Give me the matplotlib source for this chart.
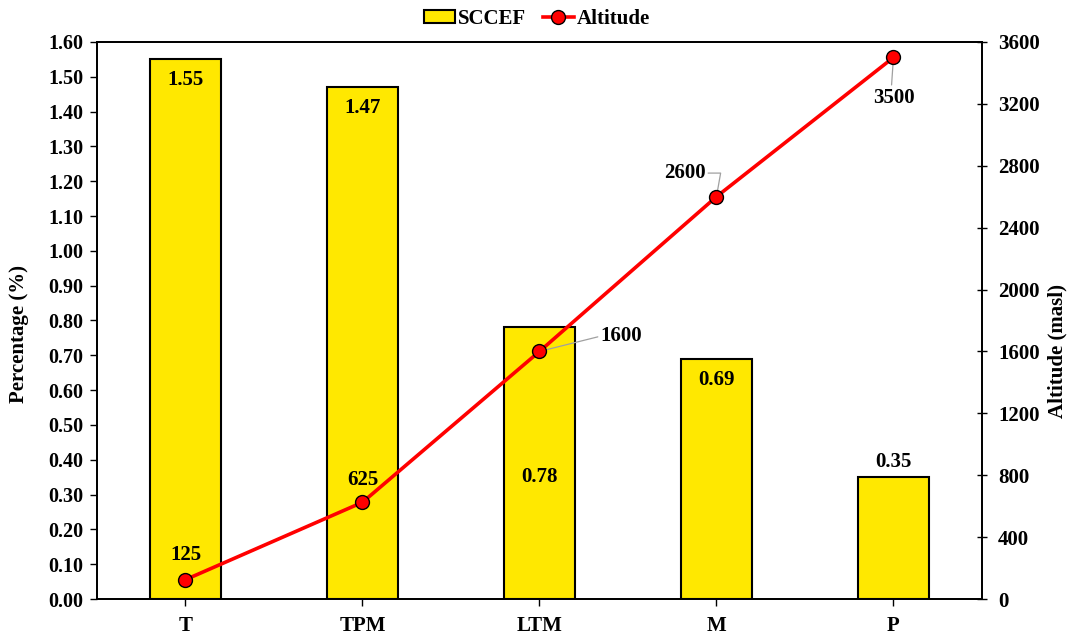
import matplotlib
matplotlib.use("Agg")
import matplotlib.pyplot as plt
from matplotlib.lines import Line2D
from matplotlib.patches import Patch

plt.rcParams['font.family'] = ['Liberation Serif', 'DejaVu Serif']
plt.rcParams['font.weight'] = 'bold'

# Data
zones = ["T", "TPM", "LTM", "M", "P"]
sccef = [1.55, 1.47, 0.78, 0.69, 0.35]
altitude = [125, 625, 1600, 2600, 3500]
pct_ticks = [0.0, 0.1, 0.2, 0.3, 0.4, 0.5, 0.6, 0.7, 0.8, 0.9, 1.0,
             1.1, 1.2, 1.3, 1.4, 1.5, 1.6]
alt_ticks = [0, 400, 800, 1200, 1600, 2000, 2400, 2800, 3200, 3600]

# label offsets (points) for the bar values
bar_offsets = [(0, -15), (0, -15), (0, -108), (0, -15), (0, 11)]

FS = 15

fig = plt.figure(figsize=(10.74, 6.34), dpi=100)
ax = fig.add_subplot(111)
fig.subplots_adjust(left=0.0903, right=0.9143, top=0.9338, bottom=0.0552)

x = list(range(len(zones)))
ax.bar(x, sccef, width=0.4, color='#FFE800', edgecolor='black',
       linewidth=1.5, zorder=2)
ax.set_xlim(-0.5, 4.5)
ax.set_ylim(0, 1.6)
ax.set_yticks(pct_ticks)
ax.set_yticklabels([f"{t:.2f}" for t in pct_ticks])
ax.set_xticks(x)
ax.set_xticklabels(zones)
ax.set_ylabel("Percentage (%)", fontsize=FS, fontweight='bold')
ax.yaxis.set_label_coords(-0.077, 0.475)
ax.tick_params(axis='y', direction='out', length=5, width=1, labelsize=14.5, pad=5)
ax.tick_params(axis='x', direction='out', length=5, width=1, labelsize=FS, pad=7)
for s in ax.spines.values():
    s.set_linewidth(1.3)

for xi, v, off in zip(x, sccef, bar_offsets):
    ax.annotate(f"{v:.2f}", xy=(xi, v), xytext=off, textcoords='offset points',
                ha='center', va='center', fontsize=FS, fontweight='bold', zorder=5)

ax2 = ax.twinx()
ax2.plot(x, altitude, color='#FF0000', linewidth=2.6, marker='o',
         markersize=10, markerfacecolor='#FF0000', markeredgecolor='black',
         markeredgewidth=1.0, zorder=4)
ax2.set_ylim(0, 3600)
ax2.set_yticks(alt_ticks)
ax2.set_ylabel("Altitude (masl)", fontsize=FS, fontweight='bold')
ax2.yaxis.set_label_coords(1.074, 0.445)
ax2.tick_params(axis='y', direction='inout', length=7, width=1, labelsize=FS, pad=8)
for s in ax2.spines.values():
    s.set_linewidth(1.3)

lead = dict(arrowstyle='-', color='#A0A0A0', lw=0.9, shrinkA=0, shrinkB=0)
ax2.annotate("125", xy=(0, 125), xytext=(0, 18), textcoords='offset points',
             ha='center', va='center', fontsize=FS, fontweight='bold')
ax2.annotate("625", xy=(1, 625), xytext=(0, 16), textcoords='offset points',
             ha='center', va='center', fontsize=FS, fontweight='bold')
ax2.annotate("1600", xy=(2, 1600), xytext=(44, 11), textcoords='offset points',
             ha='left', va='center', fontsize=FS, fontweight='bold',
             arrowprops=dict(lead, relpos=(0, 0.5)))
ax2.annotate("2600", xy=(3, 2600), xytext=(-8, 17), textcoords='offset points',
             ha='right', va='center', fontsize=FS, fontweight='bold',
             arrowprops=dict(lead, relpos=(1, 0.5),
                             connectionstyle="angle,angleA=0,angleB=80,rad=0"))
ax2.annotate("3500", xy=(4, 3500), xytext=(0, -29), textcoords='offset points',
             ha='center', va='center', fontsize=FS, fontweight='bold',
             arrowprops=dict(lead, relpos=(0.45, 1.0)))

ax.set_zorder(1)
ax2.set_zorder(2)
ax.patch.set_visible(False)

handles = [Patch(facecolor='#FFE800', edgecolor='black', linewidth=1.5, label='SCCEF'),
           Line2D([0], [0], color='#FF0000', linewidth=2.6, marker='o', markersize=10,
                  markerfacecolor='#FF0000', markeredgecolor='black', label='Altitude')]
fig.legend(handles=handles, loc='center', bbox_to_anchor=(0.5, 0.97), ncol=2,
           frameon=False, handlelength=1.5, handleheight=0.6, handletextpad=0.15,
           columnspacing=0.8, prop={'weight': 'bold', 'size': FS})

fig.savefig("out.png", dpi=100)
